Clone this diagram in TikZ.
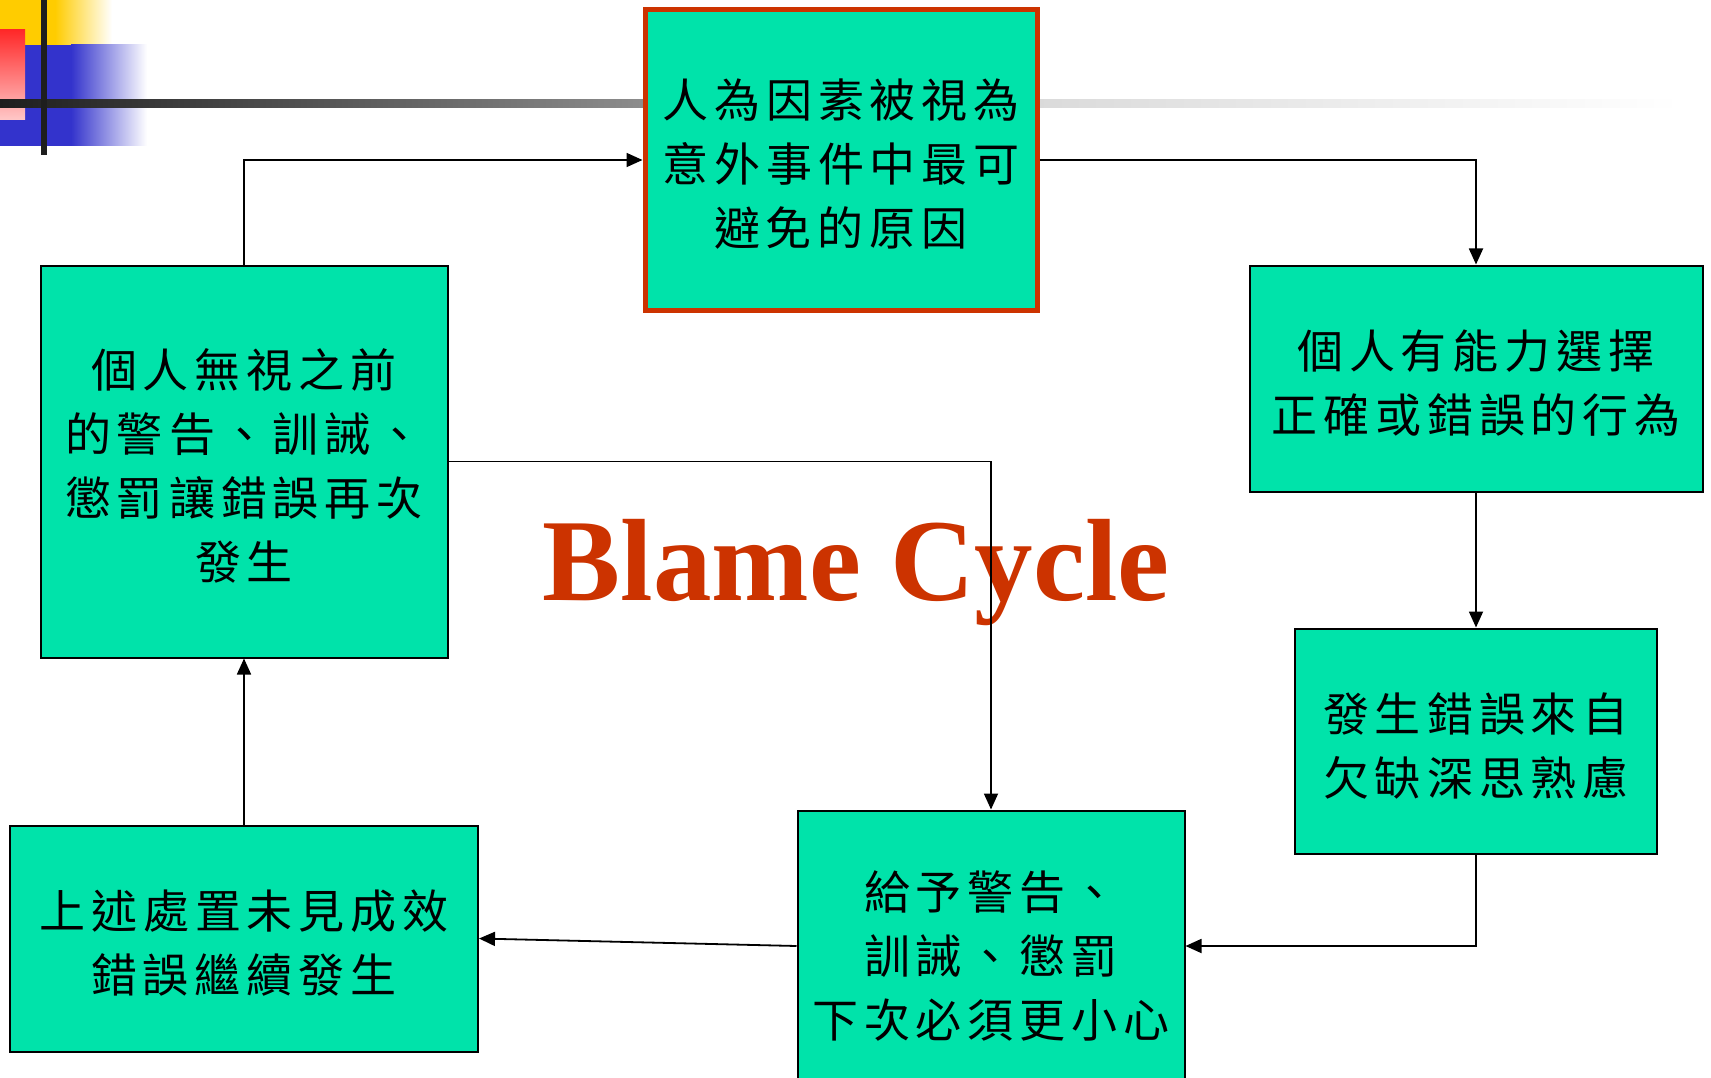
\documentclass[tikz,border=0pt]{standalone}
\usepackage{fontspec}
\setmainfont{Liberation Serif}
\newfontfamily\cjk[LetterSpace=13]{Noto Sans CJK TC}
\usetikzlibrary{arrows.meta}
\definecolor{boxgreen}{RGB}{0,227,170}
\definecolor{blamered}{RGB}{204,51,0}
\definecolor{decoyellow}{RGB}{255,204,0}
\definecolor{decoblue}{RGB}{51,51,204}
\definecolor{decored}{RGB}{255,40,40}
\definecolor{decopink}{RGB}{255,200,200}
\definecolor{bardark}{RGB}{30,30,30}
\definecolor{barmid}{RGB}{150,150,150}
\definecolor{barlight}{RGB}{216,216,216}
\begin{document}
\begin{tikzpicture}[x=1pt,y=-1pt,
  box/.style={draw=black,line width=2pt,fill=boxgreen,inner sep=0pt},
  boxtext/.style={align=center,inner sep=0pt,yshift=-4.5pt,
    font=\cjk\fontsize{46}{64}\selectfont},
  link/.style={line width=1.8pt,-{Triangle[length=16pt,width=14pt]}}]
\useasboundingbox (0,0) rectangle (1711,1078);
\clip (0,0) rectangle (1711,1078);
\fill[white] (0,0) rectangle (1711,1078);
% decoration top-left
\fill[decoyellow] (0,0) rectangle (56,45);
\shade[left color=decoyellow,right color=white] (55,0) rectangle (112,45);
\fill[decoblue] (0,45) rectangle (72,146);
\shade[left color=decoblue,right color=white] (71,45) rectangle (147,146);
\shade[top color=decored,bottom color=decopink] (0,30) rectangle (25,120);
\shade[left color=bardark,right color=barmid] (0,100) rectangle (700,108);
\shade[left color=barlight,right color=white] (1000,100) rectangle (1680,108);
\fill[bardark] (41,0) rectangle (47,155);
% nodes
\node[box,draw=blamered,line width=5pt,minimum width=392pt,minimum height=300pt,
  label={[boxtext,name=top-t]center:{人為因素被視為\\意外事件中最可\\避免的原因}}] (top) at (841,160) {};
\node[box,minimum width=407pt,minimum height=392pt,
  label={[boxtext,name=left-t]center:{個人無視之前\\的警告、訓誡、\\懲罰讓錯誤再次\\發生}}] (left) at (244,461.5) {};
\node[box,minimum width=453pt,minimum height=226pt,
  label={[boxtext,name=rt-t]center:{個人有能力選擇\\正確或錯誤的行為}}] (rt) at (1476,378.5) {};
\node[box,minimum width=362pt,minimum height=225pt,
  label={[boxtext,name=rm-t]center:{發生錯誤來自\\欠缺深思熟慮}}] (rm) at (1476,741) {};
\node[box,minimum width=387pt,minimum height=281pt,
  label={[boxtext,name=bm-t]center:{給予警告、\\訓誡、懲罰\\下次必須更小心}}] (bm) at (991,951) {};
\node[box,minimum width=468pt,minimum height=226pt,
  label={[boxtext,name=bl-t]center:{上述處置未見成效\\錯誤繼續發生}}] (bl) at (244,938.5) {};
% title
\node[font=\bfseries\fontsize{117}{117}\selectfont,text=blamered,anchor=base,inner sep=0pt] (title) at (856,600) {Blame Cycle};
% connectors
\draw[link] (left.north) |- (top.west);
\draw[link] (top.east) -| (rt.north);
\draw[link] (rt.south) -- (rm.north);
\draw[link] (rm.south) |- ([yshift=5pt]bm.east);
\draw[link] ([yshift=5pt]bm.west) -- (bl.east);
\draw[link] (bl.north) -- (left.south);
\draw[link] (left.east) -| (bm.north);
\end{tikzpicture}
\end{document}
